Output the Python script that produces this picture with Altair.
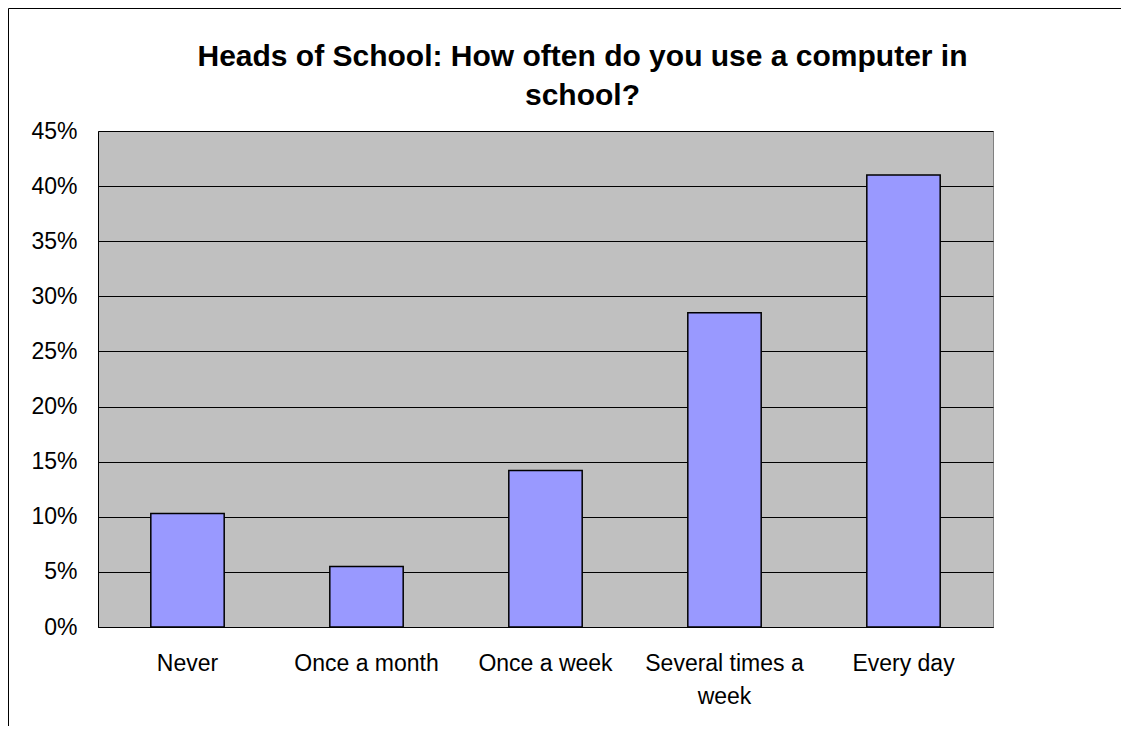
import altair as alt
import pandas as pd

categories = ["Never", "Once a month", "Once a week", "Several times a week", "Every day"]
values = [0.103, 0.055, 0.142, 0.285, 0.410]

df = pd.DataFrame({"category": categories, "share": values})

FONT = "Liberation Sans"

bars = alt.Chart(df).mark_bar(
    color="#9999FF", stroke="black", strokeWidth=1.5
).encode(
    x=alt.X(
        "category:N",
        sort=categories,
        title=None,
        scale=alt.Scale(paddingInner=0.59, paddingOuter=0.295),
        axis=alt.Axis(
            labelAngle=0,
            ticks=False,
            domain=True,
            domainColor="black",
            labelFont=FONT,
            labelFontSize=23,
            labelColor="black",
            labelPadding=25,
            labelLineHeight=33,
            labelLimit=400,
            labelExpr="datum.label == 'Several times a week' ? ['Several times a', 'week'] : datum.label",
        ),
    ),
    y=alt.Y(
        "share:Q",
        title=None,
        scale=alt.Scale(domain=[0, 0.45], nice=False),
        axis=alt.Axis(
            values=[0, 0.05, 0.10, 0.15, 0.20, 0.25, 0.30, 0.35, 0.40, 0.45],
            format=".0%",
            grid=True,
            gridColor="black",
            gridOpacity=1,
            gridWidth=1,
            ticks=False,
            domain=True,
            domainColor="black",
            labelFont=FONT,
            labelFontSize=23,
            labelColor="black",
            labelPadding=21,
        ),
    ),
)

frame = alt.Chart(alt.Data(values=[{}])).mark_rect(
    filled=False, stroke="black", strokeWidth=1
).encode(
    x=alt.value(-89.5),
    x2=alt.value(1300),
    y=alt.value(-122.5),
    y2=alt.value(900),
)

chart = alt.layer(bars, frame).properties(
    width=895,
    height=496,
    title=alt.TitleParams(
        text=["Heads of School: How often do you use a computer in", "school?"],
        font=FONT,
        fontSize=30,
        fontWeight="bold",
        color="black",
        lineHeight=39,
        anchor="middle",
        frame="group",
        dx=37,
        offset=-103,
    ),
    autosize=alt.AutoSizeParams(type="none"),
    padding={"left": 90, "top": 123, "right": 128, "bottom": 99},
    background="white",
).configure_view(
    fill="#C0C0C0",
    stroke="#808080",
    strokeWidth=1,
)

chart.save("out.html", embed_options={"renderer": "svg", "actions": False})
